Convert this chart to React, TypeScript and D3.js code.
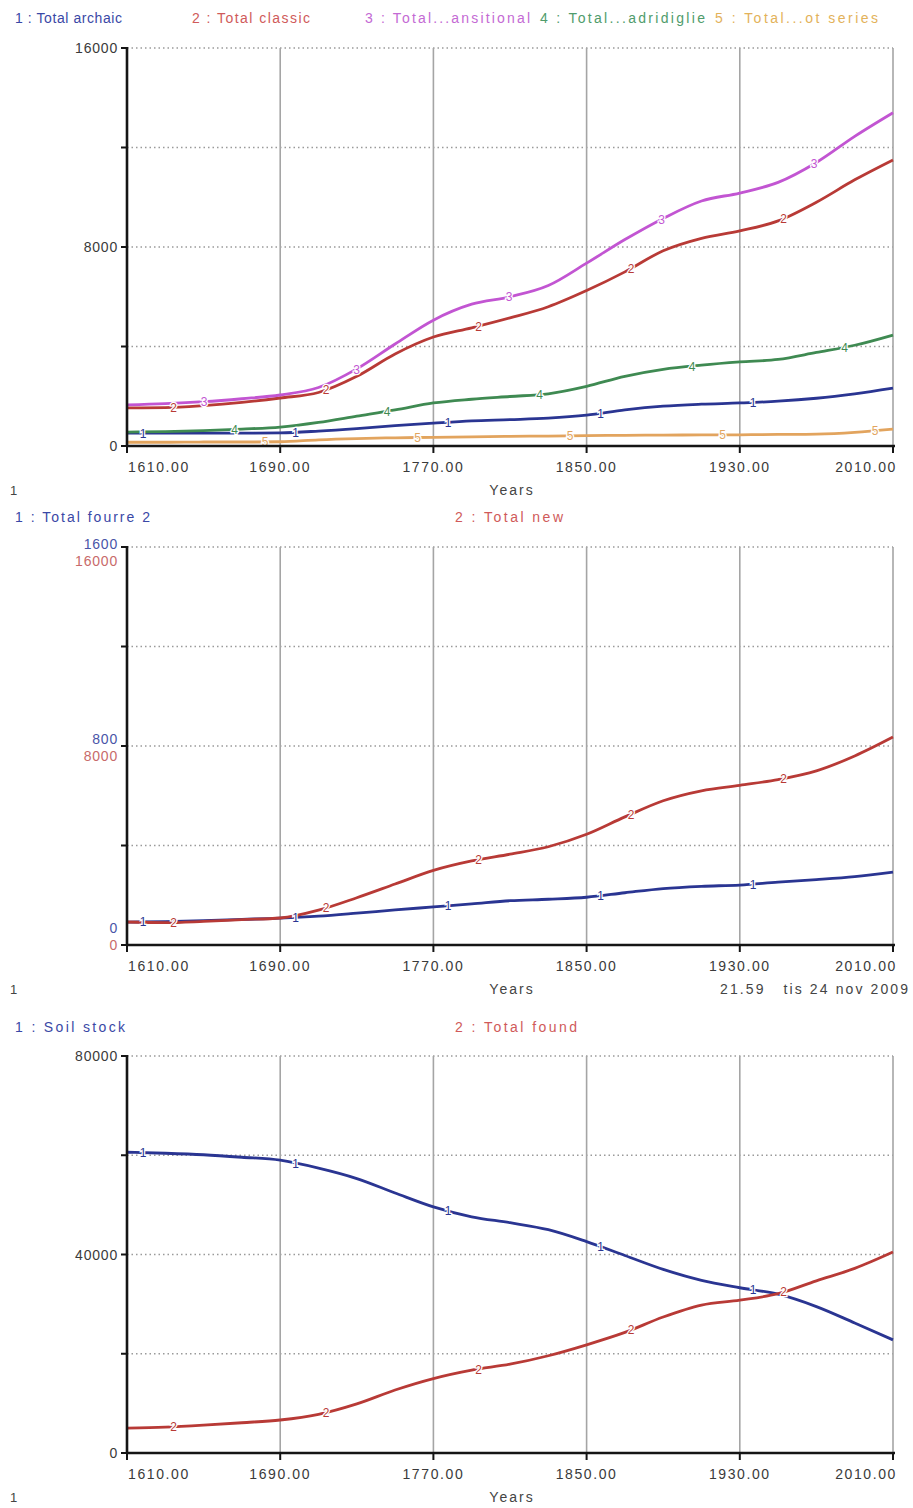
import React from 'react';
import * as d3 from 'd3';

// ---------- DATA ----------
const years = [1610, 1630, 1650, 1670, 1690, 1710, 1730, 1750, 1770, 1790, 1810, 1830, 1850, 1870, 1890, 1910, 1930, 1950, 1970, 1990, 2010];
const xTickValues = [1610, 1690, 1770, 1850, 1930, 2010];

// Panel 1
const totalArchaic = [520, 520, 520, 520, 530, 600, 700, 820, 920, 1010, 1060, 1120, 1240, 1450, 1600, 1680, 1730, 1800, 1920, 2100, 2330];
const totalClassic = [1530, 1540, 1620, 1750, 1930, 2150, 2800, 3700, 4380, 4750, 5150, 5600, 6250, 7000, 7850, 8350, 8650, 9050, 9800, 10700, 11500];
const totalTransitional = [1650, 1700, 1780, 1900, 2050, 2350, 3100, 4100, 5060, 5700, 6000, 6450, 7350, 8300, 9150, 9850, 10170, 10600, 11400, 12450, 13400];
const totalAdriatic = [560, 580, 620, 680, 760, 950, 1200, 1450, 1730, 1880, 1990, 2100, 2400, 2800, 3080, 3250, 3380, 3480, 3760, 4050, 4460];
const totalOtSeries = [150, 150, 160, 160, 170, 250, 300, 330, 350, 370, 390, 400, 420, 430, 440, 445, 450, 465, 480, 550, 680];
const panel1Labels = ['1 : Total archaic', '2 : Total classic', '3 : Total...ansitional', '4 : Total...adridiglie', '5 : Total...ot series'];
const panel1Ticks = ['0', '', '8000', '', '16000'];

// Panel 2
const totalFourre2 = [92, 94, 98, 103, 108, 116, 128, 141, 153, 165, 178, 184, 192, 210, 227, 236, 241, 253, 263, 275, 293];
const totalNew = [925, 900, 950, 1020, 1085, 1400, 1900, 2450, 3000, 3380, 3650, 3950, 4450, 5150, 5800, 6200, 6420, 6650, 7000, 7600, 8360];
const panel2Labels = ['1 : Total fourre 2', '2 : Total new'];
const panel2TicksA = ['0', '', '800', '', '1600'];
const panel2TicksB = ['0', '', '8000', '', '16000'];

// Panel 3
const soilStock = [60600, 60400, 60100, 59600, 59000, 57400, 55300, 52400, 49600, 47600, 46400, 45000, 42600, 39800, 37000, 34800, 33300, 32000, 29500, 26200, 22800];
const totalFound = [5000, 5200, 5600, 6100, 6650, 7800, 9900, 12700, 15000, 16700, 17900, 19600, 21800, 24300, 27400, 29800, 30800, 32100, 34700, 37200, 40500];
const panel3Labels = ['1 : Soil stock', '2 : Total found'];
const panel3Ticks = ['0', '', '40000', '', '80000'];

const timestamp = '21.59   tis 24 nov 2009';

// ---------- STYLE ----------
const LINE = ['#2a3592', '#b83a36', '#c255d2', '#3f8a52', '#e2a45e'];
const TEXTC = ['#3a48a6', '#d05a5a', '#c46ad4', '#4f9c6c', '#e3b25a'];
const FONT = '"Liberation Sans", Arial, sans-serif';
const X0 = 127;
const X1 = 893;

type Series = { values: number[]; max: number; color: string; num: string };

function Panel({ top, bottom, legendY, legends, legendX, legendW, series, tickSets, tickColors, tickOffsets, footer }: any) {
  const x = d3.scaleLinear().domain([1610, 2010]).range([X0, X1]);
  const quarters = [0, 1, 2, 3, 4];
  const yPos = (q: number) => bottom - (bottom - top) * q / 4;
  return (
    <g>
      {legends.map((t: string, i: number) => (
        <text key={'lg' + i} x={legendX[i]} y={legendY} fontSize={14} fill={TEXTC[i]} fontFamily={FONT}
          textLength={legendW[i]} lengthAdjust="spacing">{t}</text>
      ))}
      {/* horizontal dotted grid */}
      {quarters.filter(q => q > 0).map(q => (
        <line key={'h' + q} x1={X0} x2={X1} y1={yPos(q)} y2={yPos(q)} stroke="#9a9a9a" strokeWidth={1.5} strokeDasharray="1.5,3" />
      ))}
      {/* vertical grid */}
      {xTickValues.slice(1).map(v => (
        <line key={'v' + v} x1={x(v)} x2={x(v)} y1={top} y2={bottom} stroke="#a5a5a5" strokeWidth={1.6} />
      ))}
      {/* series */}
      {series.map((s: Series, i: number) => {
        const y = d3.scaleLinear().domain([0, s.max]).range([bottom, top]);
        const line = d3.line<number>().x((_, j) => x(years[j])).y(d => y(d)).curve(d3.curveMonotoneX);
        return <path key={'s' + i} d={line(s.values) || ''} fill="none" stroke={s.color} strokeWidth={2.8} strokeLinejoin="round" />;
      })}
      {/* series number markers */}
      {series.map((s: Series, i: number) => {
        const y = d3.scaleLinear().domain([0, s.max]).range([bottom, top]);
        const interp = d3.scaleLinear().domain(years).range(s.values);
        const marks = [];
        for (let n = 0; n < 6; n++) {
          const px = X0 + 16 + i * 30.5 + n * 152.5;
          if (px > X1 - 8) break;
          const yr = x.invert(px);
          const py = y(interp(yr));
          marks.push(
            <text key={'m' + i + '-' + n} x={px} y={py + 4.5} fontSize={12} textAnchor="middle" fill={s.color}
              stroke="#fff" strokeWidth={2.5} paintOrder="stroke" fontFamily={FONT}>{s.num}</text>
          );
        }
        return <g key={'mg' + i}>{marks}</g>;
      })}
      {/* axes */}
      <line x1={X0} x2={X0} y1={top - 1} y2={bottom + 1} stroke="#151515" strokeWidth={2.6} />
      <line x1={X0 - 1} x2={X1 + 2} y1={bottom} y2={bottom} stroke="#151515" strokeWidth={2.6} />
      {quarters.map(q => (
        <line key={'lt' + q} x1={X0 - 6} x2={X0} y1={yPos(q)} y2={yPos(q)} stroke="#151515" strokeWidth={2} />
      ))}
      {xTickValues.map(v => (
        <line key={'bt' + v} x1={x(v)} x2={x(v)} y1={bottom} y2={bottom + 7} stroke="#151515" strokeWidth={2} />
      ))}
      {/* y tick labels */}
      {tickSets.map((ticks: string[], k: number) =>
        ticks.map((t, q) => t ? (
          <text key={'yl' + k + '-' + q} x={118} y={yPos(q) + 5 + tickOffsets[k][q]} fontSize={14} textAnchor="end"
            fill={tickColors[k]} fontFamily={FONT} letterSpacing={0.8}>{t}</text>
        ) : null)
      )}
      {/* x tick labels */}
      {xTickValues.map((v, i) => (
        <text key={'xl' + v} x={x(v) + (i === 0 ? 1 : i === xTickValues.length - 1 ? 4 : 0)} y={bottom + 26} fontSize={14}
          textAnchor={i === 0 ? 'start' : i === xTickValues.length - 1 ? 'end' : 'middle'}
          fill="#3a3a3a" fontFamily={FONT} letterSpacing={1.6}>{v.toFixed(2)}</text>
      ))}
      <text x={10} y={bottom + 49} fontSize={13} fill="#444" fontFamily={FONT}>1</text>
      <text x={512} y={bottom + 49} fontSize={14} textAnchor="middle" fill="#444" fontFamily={FONT} letterSpacing={2}>Years</text>
      {footer ? <text x={720} y={bottom + 49} fontSize={14} fill="#444" fontFamily={FONT}
        textLength={188} lengthAdjust="spacing" style={{ whiteSpace: 'pre' }}>{footer}</text> : null}
    </g>
  );
}

export default function App() {
  const p1: Series[] = [
    { values: totalArchaic, max: 16000, color: LINE[0], num: '1' },
    { values: totalClassic, max: 16000, color: LINE[1], num: '2' },
    { values: totalTransitional, max: 16000, color: LINE[2], num: '3' },
    { values: totalAdriatic, max: 16000, color: LINE[3], num: '4' },
    { values: totalOtSeries, max: 16000, color: LINE[4], num: '5' },
  ];
  const p2: Series[] = [
    { values: totalFourre2, max: 1600, color: LINE[0], num: '1' },
    { values: totalNew, max: 16000, color: LINE[1], num: '2' },
  ];
  const p3: Series[] = [
    { values: soilStock, max: 80000, color: LINE[0], num: '1' },
    { values: totalFound, max: 80000, color: LINE[1], num: '2' },
  ];
  const zero = [0, 0, 0, 0, 0];
  return (
    <svg width={913} height={1508} style={{ position: 'absolute', left: 0, top: 0, background: '#fff' }}>
      <rect x={0} y={0} width={913} height={1508} fill="#fff" />
      <Panel top={48} bottom={446} legendY={23} legends={panel1Labels} legendX={[15, 192, 365, 540, 715]}
        legendW={[107, 118, 165, 165, 163]}
        series={p1} tickSets={[panel1Ticks]} tickColors={['#3a3a3a']} tickOffsets={[zero]} />
      <Panel top={547} bottom={945} legendY={522} legends={panel2Labels} legendX={[15, 455]} legendW={[135, 108]}
        series={p2} tickSets={[panel2TicksA, panel2TicksB]} tickColors={['#4a55a8', '#c86a6a']}
        tickOffsets={[[-17, 0, -7, 0, -3], [0, 0, 10, 0, 14]]} footer={timestamp} />
      <Panel top={1056} bottom={1453} legendY={1032} legends={panel3Labels} legendX={[15, 455]} legendW={[110, 122]}
        series={p3} tickSets={[panel3Ticks]} tickColors={['#3a3a3a']} tickOffsets={[zero]} />
    </svg>
  );
}
